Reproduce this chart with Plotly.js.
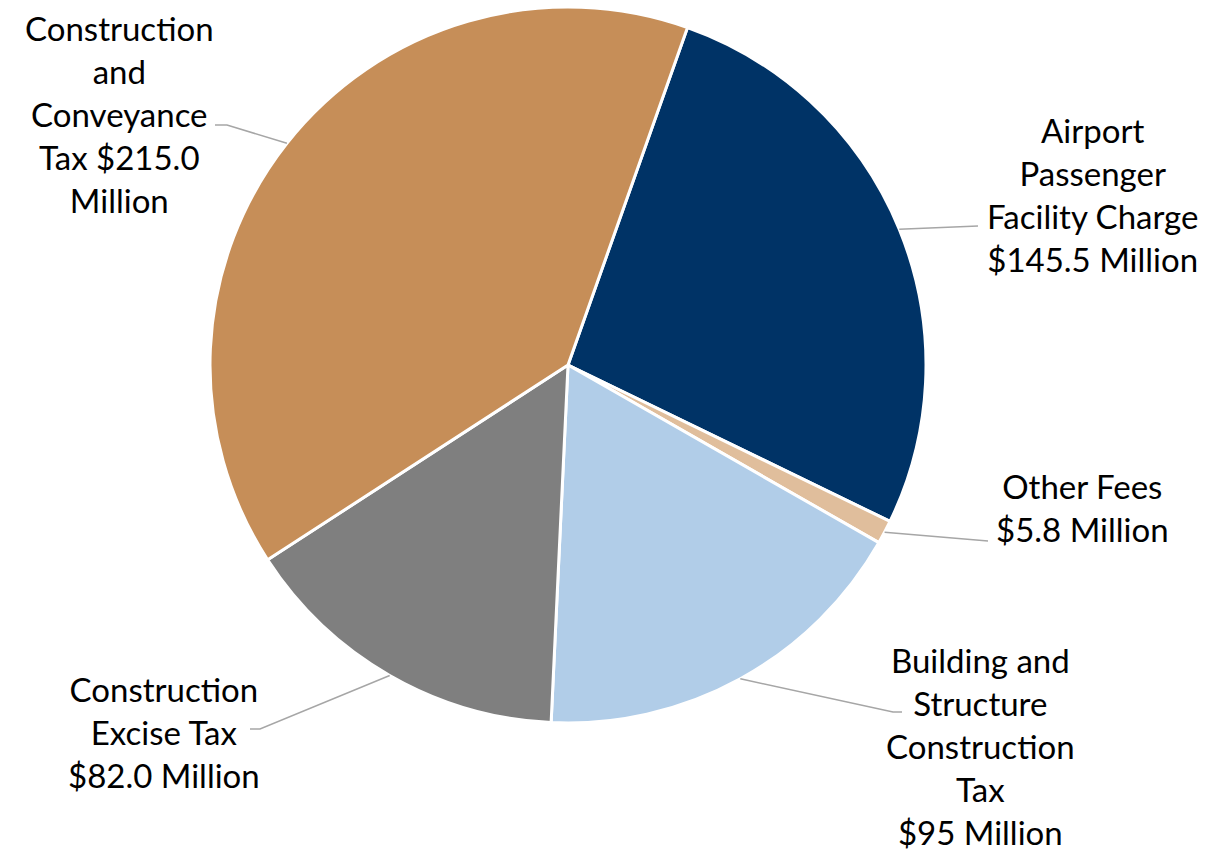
<!DOCTYPE html>
<html>
<head>
<meta charset="utf-8">
<script src="https://cdn.plot.ly/plotly-3.0.1.min.js"></script>
<style>html,body{margin:0;padding:0;background:#fff;}#chart{width:1210px;height:852px;}</style>
</head>
<body>
<div id="chart"></div>
<script>
// ---- data ----
const categories = [
  'Airport Passenger Facility Charge',
  'Other Fees',
  'Building and Structure Construction Tax',
  'Construction Excise Tax',
  'Construction and Conveyance Tax'
];
const values = [145.5, 5.8, 95, 82.0, 215.0];
const valueLabels = ['$145.5 Million', '$5.8 Million', '$95 Million', '$82.0 Million', '$215.0 Million'];
const labelLines = [
  ['Airport', 'Passenger', 'Facility Charge'],
  ['Other Fees'],
  ['Building and', 'Structure', 'Construction', 'Tax'],
  ['Construction', 'Excise Tax'],
  ['Construction', 'and', 'Conveyance', 'Tax']
];
const colors = ['#003366', '#E0BE9C', '#B1CDE8', '#7F7F7F', '#C68E58'];

// ---- layout constants (style) ----
const W = 1210, H = 852;
const cx = 568, cy = 365, R = 358;
const rotation = 19.5;
// label centres and leader-line elbow/end points, in pixels
const labelPos = [[1092, 194], [1082, 508], [980, 746], [164, 732], [119, 114]];
const elbows = [[978, 226], [988, 541], [893, 712], [260, 729], [227, 125]];
const stubs  = [[978, 226], [988, 541], [902, 712], [250, 729], [215, 125]];

function labelText(i) {
  const lines = labelLines[i].slice();
  if (i === 4) {
    // "Tax $215.0" then "Million"
    const parts = valueLabels[i].split(' ');
    lines[lines.length - 1] = lines[lines.length - 1] + ' ' + parts[0];
    lines.push(parts[1]);
  } else {
    lines.push(valueLabels[i]);
  }
  return lines.join('<br>');
}

const px = x => x / W;
const py = y => 1 - y / H;

const total = values.reduce((a, b) => a + b, 0);
let acc = 0;
const annotations = [];
const shapes = [];
values.forEach((v, i) => {
  const mid = (rotation + (acc + v / 2) / total * 360) * Math.PI / 180;
  acc += v;
  const ex = cx + R * Math.sin(mid), ey = cy - R * Math.cos(mid);
  shapes.push({
    type: 'path', xref: 'paper', yref: 'paper',
    path: `M ${px(ex)} ${py(ey)} L ${px(elbows[i][0])} ${py(elbows[i][1])} L ${px(stubs[i][0])} ${py(stubs[i][1])}`,
    line: {color: '#A6A6A6', width: 1.5}
  });
  annotations.push({
    xref: 'paper', yref: 'paper',
    x: px(labelPos[i][0]), y: py(labelPos[i][1]),
    xanchor: 'center', yanchor: 'middle', align: 'center',
    showarrow: false,
    text: labelText(i),
    font: {family: 'Lato, sans-serif', size: 33, color: '#000'}
  });
});

const trace = {
  type: 'pie',
  labels: categories,
  values: values,
  sort: false,
  direction: 'clockwise',
  rotation: rotation,
  marker: {colors: colors, line: {color: '#ffffff', width: 3}},
  textinfo: 'none',
  textposition: 'none',
  hoverinfo: 'none',
  automargin: false,
  domain: {x: [(cx - R) / W, (cx + R) / W], y: [1 - (cy + R) / H, 1 - (cy - R) / H]}
};

const layout = {
  width: W, height: H,
  margin: {l: 0, r: 0, t: 0, b: 0},
  showlegend: false,
  paper_bgcolor: '#fff',
  annotations: annotations,
  shapes: shapes
};

Plotly.newPlot('chart', [trace], layout, {displayModeBar: false, staticPlot: true});
</script>
</body>
</html>
